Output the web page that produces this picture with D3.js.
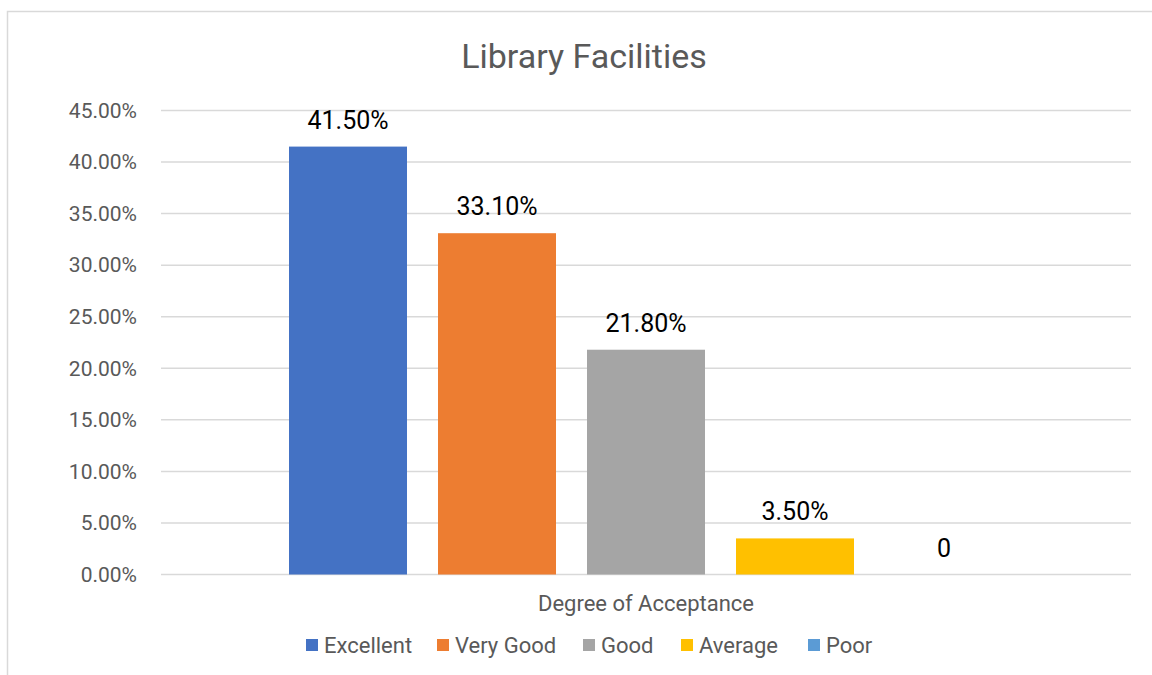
<!DOCTYPE html>
<html><head><meta charset="utf-8">
<script src="https://cdn.jsdelivr.net/npm/d3@7"></script>
<style>body{margin:0;background:#fff;}svg{display:block;font-family:Roboto,"Liberation Sans",sans-serif;}</style>
</head><body><svg id="c" width="1152" height="675"></svg>
<script>
const categories = ["Excellent","Very Good","Good","Average","Poor"];
const values = [0.415, 0.331, 0.218, 0.035, 0];
const valueLabels = ["41.50%","33.10%","21.80%","3.50%","0"];
const colors = ["#4472C4","#ED7D31","#A5A5A5","#FFC000","#5B9BD5"];
const yTicks = [0,0.05,0.10,0.15,0.20,0.25,0.30,0.35,0.40,0.45];
const title = "Library Facilities";
const xTitle = "Degree of Acceptance";

const svg = d3.select("#c");
// outer chart border
svg.append("rect").attr("x",7.5).attr("y",11.5).attr("width",1160).attr("height",700)
  .attr("fill","none").attr("stroke","#d9d9d9").attr("stroke-width",1.5);

const L=161, R=1131, T=110.5, B=574.5;
const y = d3.scaleLinear().domain([0,0.45]).range([B,T]);
const x = d3.scaleBand().domain(categories).range([289,1003]).paddingInner(31/149).paddingOuter(0);

// gridlines
svg.append("g").selectAll("line").data(yTicks).join("line")
  .attr("x1",L).attr("x2",R).attr("y1",d=>y(d)).attr("y2",d=>y(d))
  .attr("stroke","#d9d9d9").attr("stroke-width",1.5);

// y axis labels
const yAxis = d3.axisLeft(y).tickValues(yTicks).tickFormat(d3.format(".2%")).tickSize(0).tickPadding(0);
const ya = svg.append("g").attr("transform",`translate(137,0)`).call(yAxis);
ya.select(".domain").remove();
ya.selectAll("text").attr("fill","#595959").attr("font-size",21).attr("font-family","Roboto");

// bars
svg.append("g").selectAll("rect").data(values).join("rect")
  .attr("x",(d,i)=>x(categories[i])).attr("width",x.bandwidth())
  .attr("y",d=>y(d)).attr("height",d=>B-y(d)).attr("fill",(d,i)=>colors[i]);

// data labels
svg.append("g").selectAll("text").data(values).join("text")
  .attr("x",(d,i)=>x(categories[i])+x.bandwidth()/2).attr("y",d=>y(d)-18)
  .attr("text-anchor","middle").attr("font-size",25).attr("fill","#000")
  .text((d,i)=>valueLabels[i]);

// title
svg.append("text").attr("x",584).attr("y",68).attr("text-anchor","middle")
  .attr("font-size",34).attr("fill","#595959").text(title);

// x title
svg.append("text").attr("x",646).attr("y",611).attr("text-anchor","middle")
  .attr("font-size",22).attr("fill","#595959").text(xTitle);

// legend
const legX = [306,437,583,681,808];
const lg = svg.append("g").selectAll("g").data(categories).join("g")
  .attr("transform",(d,i)=>`translate(${legX[i]},639)`);
lg.append("rect").attr("width",12).attr("height",12).attr("fill",(d,i)=>colors[i]);
lg.append("text").attr("x",18).attr("y",13.5).attr("font-size",22).attr("fill","#595959").text(d=>d);
</script></body></html>
